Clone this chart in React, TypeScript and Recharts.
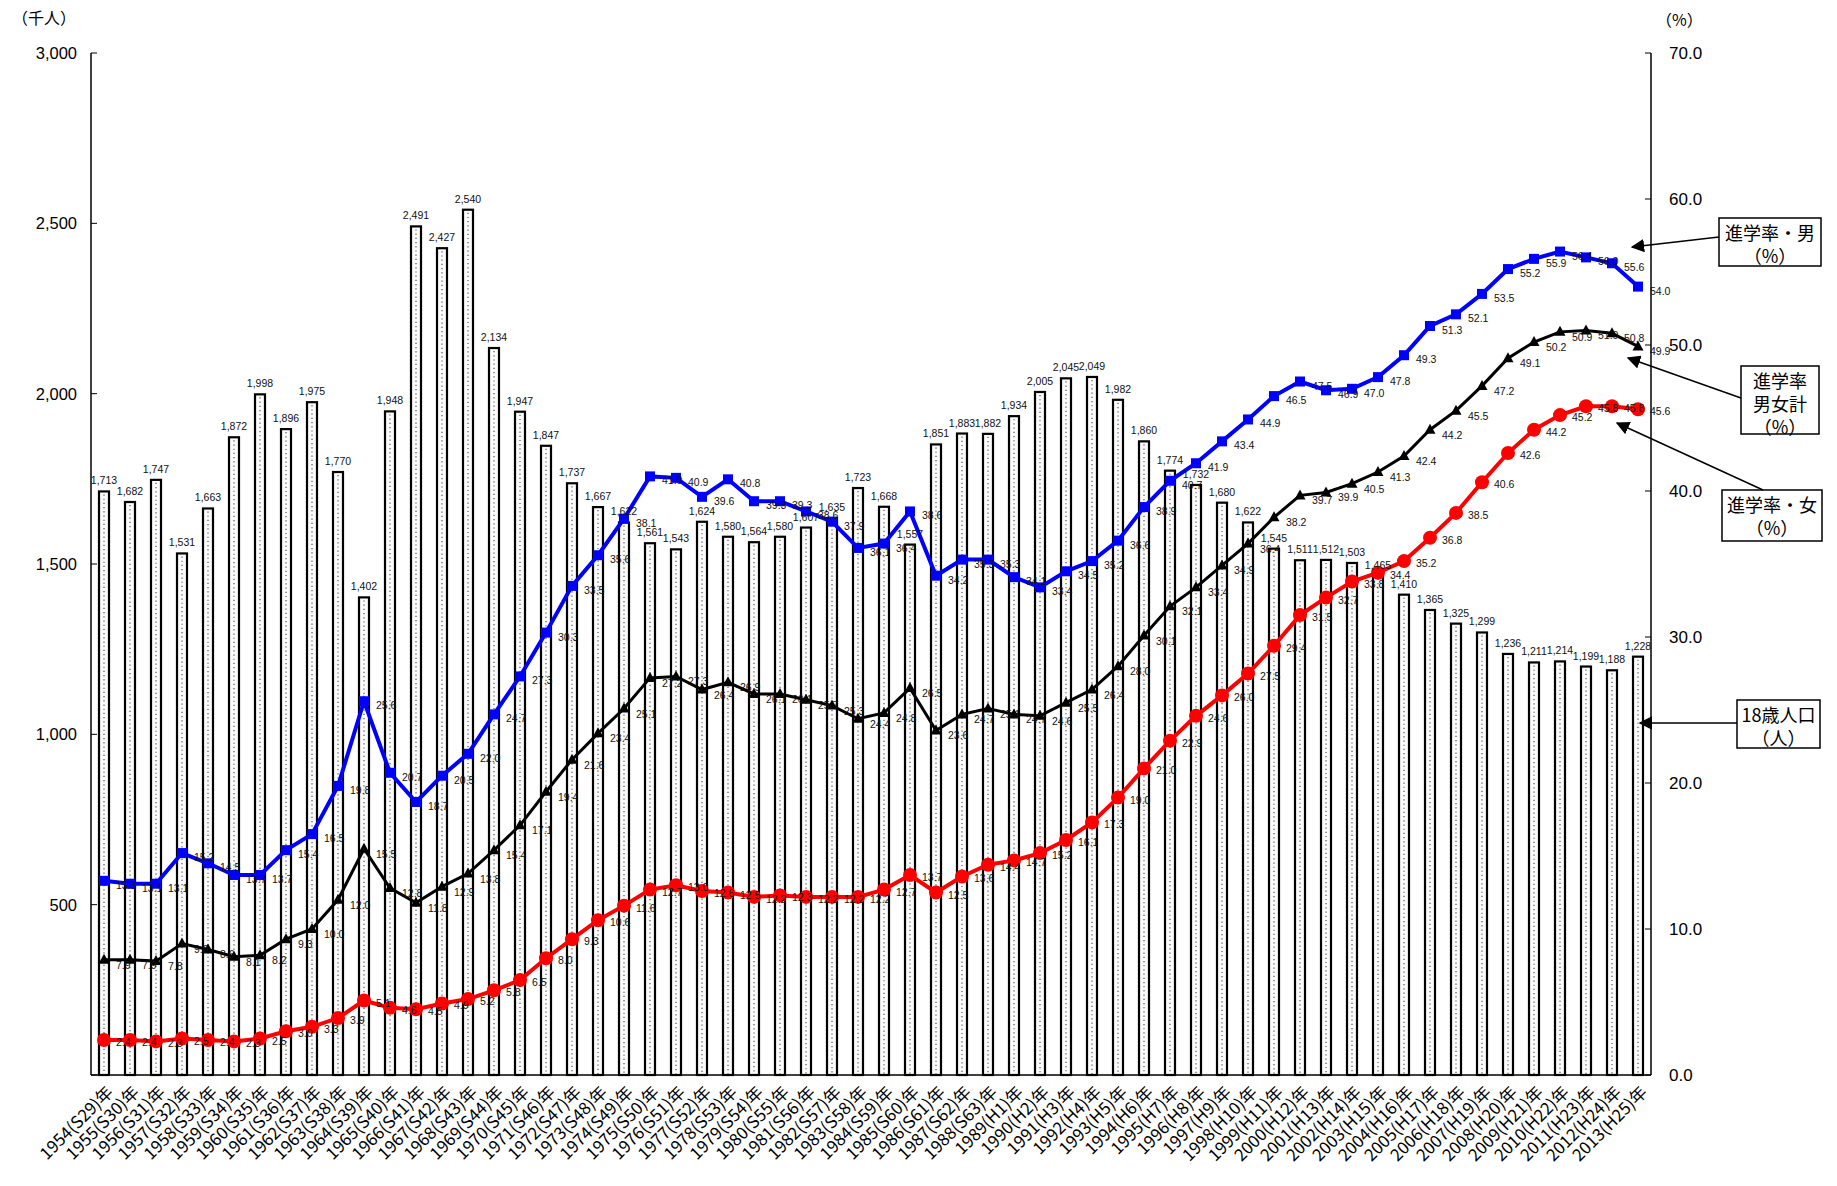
import React from "react";
import {
  ComposedChart,
  Bar,
  Line,
  XAxis,
  YAxis,
  LabelList,
} from "recharts";

// 年度ラベル
const years = [
  "1954(S29)年", "1955(S30)年", "1956(S31)年", "1957(S32)年", "1958(S33)年",
  "1959(S34)年", "1960(S35)年", "1961(S36)年", "1962(S37)年", "1963(S38)年",
  "1964(S39)年", "1965(S40)年", "1966(S41)年", "1967(S42)年", "1968(S43)年",
  "1969(S44)年", "1970(S45)年", "1971(S46)年", "1972(S47)年", "1973(S48)年",
  "1974(S49)年", "1975(S50)年", "1976(S51)年", "1977(S52)年", "1978(S53)年",
  "1979(S54)年", "1980(S55)年", "1981(S56)年", "1982(S57)年", "1983(S58)年",
  "1984(S59)年", "1985(S60)年", "1986(S61)年", "1987(S62)年", "1988(S63)年",
  "1989(H1)年", "1990(H2)年", "1991(H3)年", "1992(H4)年", "1993(H5)年",
  "1994(H6)年", "1995(H7)年", "1996(H8)年", "1997(H9)年", "1998(H10)年",
  "1999(H11)年", "2000(H12)年", "2001(H13)年", "2002(H14)年", "2003(H15)年",
  "2004(H16)年", "2005(H17)年", "2006(H18)年", "2007(H19)年", "2008(H20)年",
  "2009(H21)年", "2010(H22)年", "2011(H23)年", "2012(H24)年", "2013(H25)年",
];

// 18歳人口（千人）
const population = [
  1713, 1682, 1747, 1531, 1663, 1872, 1998, 1896, 1975, 1770,
  1402, 1948, 2491, 2427, 2540, 2134, 1947, 1847, 1737, 1667,
  1622, 1561, 1543, 1624, 1580, 1564, 1580, 1607, 1635, 1723,
  1668, 1557, 1851, 1883, 1882, 1934, 2005, 2045, 2049, 1982,
  1860, 1774, 1732, 1680, 1622, 1545, 1511, 1512, 1503, 1465,
  1410, 1365, 1325, 1299, 1236, 1211, 1214, 1199, 1188, 1228,
];

// 進学率・男（%）
const maleRate = [
  13.3, 13.1, 13.1, 15.2, 14.5, 13.7, 13.7, 15.4, 16.5, 19.8,
  25.6, 20.7, 18.7, 20.5, 22.0, 24.7, 27.3, 30.3, 33.5, 35.6,
  38.1, 41.0, 40.9, 39.6, 40.8, 39.3, 39.3, 38.6, 37.9, 36.1,
  36.4, 38.6, 34.2, 35.3, 35.3, 34.1, 33.4, 34.5, 35.2, 36.6,
  38.9, 40.7, 41.9, 43.4, 44.9, 46.5, 47.5, 46.9, 47.0, 47.8,
  49.3, 51.3, 52.1, 53.5, 55.2, 55.9, 56.4, 56.0, 55.6, 54.0,
];

// 進学率・男女計（%）
const totalRate = [
  7.9, 7.9, 7.8, 9.0, 8.6, 8.1, 8.2, 9.3, 10.0, 12.0,
  15.5, 12.8, 11.8, 12.9, 13.8, 15.4, 17.1, 19.4, 21.6, 23.4,
  25.1, 27.2, 27.3, 26.4, 26.9, 26.1, 26.1, 25.7, 25.3, 24.4,
  24.8, 26.5, 23.6, 24.7, 25.1, 24.7, 24.6, 25.5, 26.4, 28.0,
  30.1, 32.1, 33.4, 34.9, 36.4, 38.2, 39.7, 39.9, 40.5, 41.3,
  42.4, 44.2, 45.5, 47.2, 49.1, 50.2, 50.9, 51.0, 50.8, 49.9,
];

// 進学率・女（%）
const femaleRate = [
  2.4, 2.4, 2.3, 2.5, 2.4, 2.3, 2.5, 3.0, 3.3, 3.9,
  5.1, 4.6, 4.5, 4.9, 5.2, 5.8, 6.5, 8.0, 9.3, 10.6,
  11.6, 12.7, 13.0, 12.6, 12.5, 12.2, 12.3, 12.2, 12.2, 12.2,
  12.7, 13.7, 12.5, 13.6, 14.4, 14.7, 15.2, 16.1, 17.3, 19.0,
  21.0, 22.9, 24.6, 26.0, 27.5, 29.4, 31.5, 32.7, 33.8, 34.4,
  35.2, 36.8, 38.5, 40.6, 42.6, 44.2, 45.2, 45.8, 45.8, 45.6,
];

const leftTicks = [0, 500, 1000, 1500, 2000, 2500, 3000];
const rightTicks = [0, 10, 20, 30, 40, 50, 60, 70];

const data = years.map((y, i) => ({
  year: y,
  pop: population[i],
  male: maleRate[i],
  total: totalRate[i],
  female: femaleRate[i],
}));

const FONT = "'Liberation Sans', 'Noto Sans CJK JP', sans-serif";
const JP = "'Noto Sans CJK JP', sans-serif";

const DottedBar = (props: any) => {
  const { x, y, width, height } = props;
  if (height == null || height <= 0) return null;
  return (
    <g>
      <rect x={x} y={y} width={width} height={height} fill="#fbfbfb" stroke="#000" strokeWidth={2.2} />
      <line
        x1={x + width / 2}
        x2={x + width / 2}
        y1={y + 3}
        y2={y + height}
        stroke="#555"
        strokeWidth={1.2}
        strokeDasharray="1.2 3"
      />
    </g>
  );
};

const squareDot = (p: any) => (
  <rect key={`sq-${p.index}`} x={p.cx - 5} y={p.cy - 5} width={10} height={10} fill="#0000ff" />
);
const triDot = (p: any) => (
  <path
    key={`tr-${p.index}`}
    d={`M${p.cx},${p.cy - 6} L${p.cx + 5.5},${p.cy + 4} L${p.cx - 5.5},${p.cy + 4} Z`}
    fill="#000"
  />
);
const circleDot = (p: any) => (
  <circle key={`ci-${p.index}`} cx={p.cx} cy={p.cy} r={7} fill="#ff0000" />
);

const barLabel = (p: any) => (
  <text x={p.x + p.width / 2} y={p.y - 7} textAnchor="middle" fontSize={10.5} fontFamily={FONT} fill="#111">
    {Number(p.value).toLocaleString("en-US")}
  </text>
);

const lineLabel = (dy: number) => (p: any) => (
  <text x={p.x + 12} y={p.y + dy} textAnchor="start" fontSize={10.5} fontFamily={FONT} fill="#111">
    {Number(p.value).toFixed(1)}
  </text>
);

const LeftTick = (p: any) => (
  <g>
    <line x1={p.x + 14} x2={p.x + 20} y1={p.y} y2={p.y} stroke="#000" />
    <text x={p.x} y={p.y + 6} textAnchor="end" fontSize={16.5} fontFamily={FONT} fill="#000">
      {p.payload.value === 0 ? "" : Number(p.payload.value).toLocaleString("en-US")}
    </text>
  </g>
);

const RightTick = (p: any) => (
  <g>
    <line x1={p.x - 18} x2={p.x - 24} y1={p.y} y2={p.y} stroke="#000" />
    <text x={p.x} y={p.y + 6} textAnchor="start" fontSize={17} fontFamily={FONT} fill="#000">
      {Number(p.payload.value).toFixed(1)}
    </text>
  </g>
);

const XTick = (p: any) => (
  <g transform={`translate(${p.x + 4},${p.y + 4})`}>
    <text x={0} y={0} dy={9} textAnchor="end" transform="rotate(-45)" fontSize={17} fontFamily={JP} fill="#000">
      {p.payload.value}
    </text>
  </g>
);

const Callout = ({ x, y, w, h, lines, ax, ay, bx, by }: any) => (
  <g>
    <rect x={x} y={y} width={w} height={h} fill="#fff" stroke="#000" strokeWidth={1.5} />
    {lines.map((t: string, i: number) => (
      <text
        key={i}
        x={x + w / 2}
        y={y + 22 + i * 23}
        textAnchor="middle"
        fontSize={18}
        fontFamily={JP}
        fill="#000"
      >
        {t}
      </text>
    ))}
    <line x1={ax} y1={ay} x2={bx} y2={by} stroke="#000" strokeWidth={1.5} markerEnd="url(#arrow)" />
  </g>
);

export default function App() {
  return (
    <div style={{ position: "absolute", left: 0, top: 0, width: 1837, height: 1186, background: "#fff" }}>
      <ComposedChart
        width={1837}
        height={1186}
        data={data}
        margin={{ top: 53, right: 0, bottom: 0, left: 0 }}
        barSize={10}
      >
        <XAxis
          dataKey="year"
          interval={0}
          height={111}
          tick={<XTick />}
          tickLine={false}
          axisLine={{ stroke: "#000", strokeWidth: 1.5 }}
        />
        <YAxis
          yAxisId="left"
          orientation="left"
          width={91}
          domain={[0, 3000]}
          ticks={leftTicks}
          tick={<LeftTick />}
          tickLine={false}
          tickSize={0}
          tickMargin={14}
          axisLine={{ stroke: "#000", strokeWidth: 1.5 }}
        />
        <YAxis
          yAxisId="right"
          orientation="right"
          width={186}
          domain={[0, 70]}
          ticks={rightTicks}
          tick={<RightTick />}
          tickLine={false}
          tickSize={0}
          tickMargin={18}
          axisLine={{ stroke: "#000", strokeWidth: 1.5 }}
        />
        <Bar yAxisId="left" dataKey="pop" shape={<DottedBar />} isAnimationActive={false}>
          <LabelList dataKey="pop" content={barLabel} />
        </Bar>
        <Line
          yAxisId="right"
          dataKey="male"
          stroke="#0000ff"
          strokeWidth={4}
          dot={squareDot}
          activeDot={false}
          isAnimationActive={false}
        >
          <LabelList dataKey="male" content={lineLabel(8)} />
        </Line>
        <Line
          yAxisId="right"
          dataKey="total"
          stroke="#000"
          strokeWidth={3}
          dot={triDot}
          activeDot={false}
          isAnimationActive={false}
        >
          <LabelList dataKey="total" content={lineLabel(9)} />
        </Line>
        <Line
          yAxisId="right"
          dataKey="female"
          stroke="#ff0000"
          strokeWidth={4}
          dot={circleDot}
          activeDot={false}
          isAnimationActive={false}
        >
          <LabelList dataKey="female" content={lineLabel(6)} />
        </Line>
      </ComposedChart>

      <svg
        width={1837}
        height={1186}
        style={{ position: "absolute", left: 0, top: 0, pointerEvents: "none" }}
      >
        <defs>
          <marker id="arrow" viewBox="0 0 10 10" refX="9" refY="5" markerWidth="9" markerHeight="9" orient="auto-start-reverse">
            <path d="M0,0 L10,5 L0,10 Z" fill="#000" />
          </marker>
        </defs>
        <text x={12} y={24} fontSize={16} fontFamily={JP} fill="#000">（千人）</text>
        <text x={1656} y={26} fontSize={16} fontFamily={JP} fill="#000">（%）</text>
        <Callout x={1719} y={218} w={102} h={48} lines={["進学率・男", "（%）"]} ax={1719} ay={237} bx={1632} by={247} />
        <Callout x={1741} y={366} w={78} h={68} lines={["進学率", "男女計", "（%）"]} ax={1741} ay={398} bx={1628} by={358} />
        <Callout x={1722} y={490} w={100} h={51} lines={["進学率・女", "（%）"]} ax={1763} ay={490} bx={1617} by={423} />
        <Callout x={1737} y={700} w={83} h={48} lines={["18歳人口", "（人）"]} ax={1737} ay={723} bx={1640} by={723} />
      </svg>
    </div>
  );
}
